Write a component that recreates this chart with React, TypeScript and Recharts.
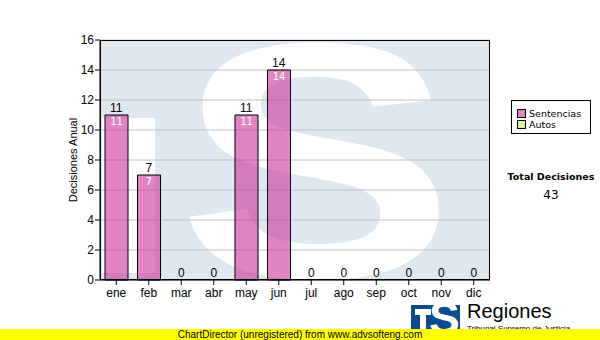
import React from 'react';
import { ComposedChart, Bar, Line, XAxis, YAxis, CartesianGrid, LabelList } from 'recharts';

const months = ['ene', 'feb', 'mar', 'abr', 'may', 'jun', 'jul', 'ago', 'sep', 'oct', 'nov', 'dic'];
const sentencias = [11, 7, 0, 0, 11, 14, 0, 0, 0, 0, 0, 0];
const autos = [0, 0, 0, 0, 0, 0, 0, 0, 0, 0, 0, 0];
const yTicks = [0, 2, 4, 6, 8, 10, 12, 14, 16];
const seriesNames = ['Sentencias', 'Autos'];
const seriesColors = ['#cc3399', '#ccee88'];

const data = months.map((m, i) => ({
  month: m,
  sentencias: sentencias[i],
  autos: autos[i],
  total: sentencias[i] + autos[i],
}));

const grandTotal = data.reduce((s, d) => s + d.total, 0);

const ARIAL = '"Liberation Sans", Arial, sans-serif';
const VERDANA = '"DejaVu Sans", Verdana, sans-serif';

// white value inside the top of each bar
const InnerLabel = (props: any) => {
  const { x, y, width, value } = props;
  if (!value) return null;
  return (
    <text x={x + width / 2} y={y + 10} textAnchor="middle" fontSize={10} fontFamily={VERDANA} fill="#fff">
      {value}
    </text>
  );
};

// stack total above each bar
const TotalLabel = (props: any) => {
  const { x, y, value } = props;
  return (
    <text x={x} y={y - 3} textAnchor="middle" fontSize={12} fontFamily={ARIAL} fill="#000">
      {value}
    </text>
  );
};

const Watermark = () => (
  <svg width={600} height={340} style={{ position: 'absolute', left: 0, top: 0 }}>
    <defs>
      <clipPath id="plotClip">
        <rect x={100} y={40} width={390} height={240} />
      </clipPath>
    </defs>
    <g clipPath="url(#plotClip)">
      <rect x={100} y={40} width={390} height={240} fill="#dfe8f1" />
      <rect x={102} y={118} width={53} height={155} fill="#fff" />
      <text
        x={316}
        y={277}
        textAnchor="middle"
        fontSize={336}
        fontWeight="bold"
        fontFamily={ARIAL}
        fill="#fff"
        transform="translate(316 0) scale(1.24 1) translate(-316 0)"
      >
        S
      </text>
    </g>
  </svg>
);

export default function App() {
  return (
    <div style={{ position: 'absolute', left: 0, top: 0, width: 600, height: 340, background: '#fff', overflow: 'hidden' }}>
      <Watermark />
      <div style={{ position: 'absolute', left: 0, top: 0 }}>
        <ComposedChart
          width={600}
          height={340}
          data={data}
          margin={{ top: 40, right: 110, bottom: 30, left: 40 }}
          barSize={23}
        >
          <CartesianGrid horizontal vertical={false} stroke="#c0c0c0" />
          <XAxis
            dataKey="month"
            height={30}
            tickSize={5}
            tickMargin={3}
            axisLine={{ stroke: '#000' }}
            tickLine={{ stroke: '#000' }}
            tick={{ fill: '#000', fontSize: 12, fontFamily: ARIAL }}
            interval={0}
          />
          <YAxis
            width={60}
            domain={[0, 16]}
            ticks={yTicks}
            tickSize={5}
            tickMargin={1}
            axisLine={{ stroke: '#000' }}
            tickLine={{ stroke: '#000' }}
            tick={{ fill: '#000', fontSize: 12, fontFamily: ARIAL }}
            label={{
              value: 'Decisiones Anual',
              angle: -90,
              position: 'insideLeft',
              offset: 33,
              style: { textAnchor: 'middle', fontSize: 11, fontFamily: ARIAL, fill: '#000' },
            }}
          />
          <Bar
            dataKey="sentencias"
            name={seriesNames[0]}
            stackId="a"
            fill={seriesColors[0]}
            fillOpacity={0.6}
            stroke="#000"
            strokeWidth={1}
            isAnimationActive={false}
          >
            <LabelList dataKey="sentencias" content={InnerLabel} />
          </Bar>
          <Bar
            dataKey="autos"
            name={seriesNames[1]}
            stackId="a"
            fill={seriesColors[1]}
            stroke="#000"
            strokeWidth={1}
            isAnimationActive={false}
          />
          <Line
            dataKey="total"
            stroke="none"
            dot={false}
            activeDot={false}
            legendType="none"
            isAnimationActive={false}
          >
            <LabelList dataKey="total" content={TotalLabel} />
          </Line>
        </ComposedChart>
      </div>
      <svg width={600} height={340} style={{ position: 'absolute', left: 0, top: 0, pointerEvents: 'none' }}>
        <rect x={100.5} y={40.5} width={389} height={239} fill="none" stroke="#000" strokeWidth={1} />
      </svg>
      <div
        style={{
          position: 'absolute',
          left: 511,
          top: 100,
          width: 80,
          height: 34,
          border: '1px solid #000',
          background: '#fff',
          fontFamily: VERDANA,
          fontSize: 9.5,
          boxSizing: 'border-box',
          paddingTop: 7,
          paddingLeft: 5,
        }}
      >
        {seriesNames.map((n, i) => (
          <div key={n} style={{ display: 'flex', alignItems: 'center', height: 11 }}>
            <span
              style={{
                display: 'inline-block',
                width: 7,
                height: 7,
                border: '1px solid #000',
                background: i === 0 ? '#e085c2' : '#d8f0a0',
                marginRight: 3,
              }}
            />
            {n}
          </div>
        ))}
      </div>
      <div
        style={{
          position: 'absolute',
          left: 500,
          top: 171,
          width: 102,
          textAlign: 'center',
          fontFamily: VERDANA,
          fontSize: 9.5,
          fontWeight: 'bold',
        }}
      >
        Total Decisiones
      </div>
      <div
        style={{
          position: 'absolute',
          left: 500,
          top: 188,
          width: 102,
          textAlign: 'center',
          fontFamily: VERDANA,
          fontSize: 12,
        }}
      >
        {grandTotal}
      </div>
      <div style={{ position: 'absolute', left: 411, top: 305, width: 49, height: 30, background: '#0b4c8c', overflow: 'hidden' }}>
        <div style={{ position: 'absolute', left: 4, top: 4, width: 16, height: 6, background: '#fff' }} />
        <div style={{ position: 'absolute', left: 9, top: 4, width: 6, height: 26, background: '#fff' }} />
        <div
          style={{
            position: 'absolute',
            left: 18,
            top: -10,
            fontFamily: ARIAL,
            fontWeight: 'bold',
            fontSize: 46,
            color: '#fff',
            lineHeight: 1,
          }}
        >
          S
        </div>
      </div>
      <div style={{ position: 'absolute', left: 467, top: 300, fontFamily: ARIAL, fontSize: 20, color: '#000', lineHeight: 1.1 }}>
        Regiones
      </div>
      <div style={{ position: 'absolute', left: 467, top: 324, fontFamily: ARIAL, fontSize: 8, color: '#000', whiteSpace: 'nowrap' }}>
        Tribunal Supremo de Justicia
      </div>
      <div
        style={{
          position: 'absolute',
          left: 0,
          top: 329,
          width: 600,
          height: 11,
          background: '#ffff00',
          fontFamily: ARIAL,
          fontSize: 10,
          lineHeight: '11px',
          textAlign: 'center',
          color: '#000',
        }}
      >
        ChartDirector (unregistered) from www.advsofteng.com
      </div>
    </div>
  );
}
